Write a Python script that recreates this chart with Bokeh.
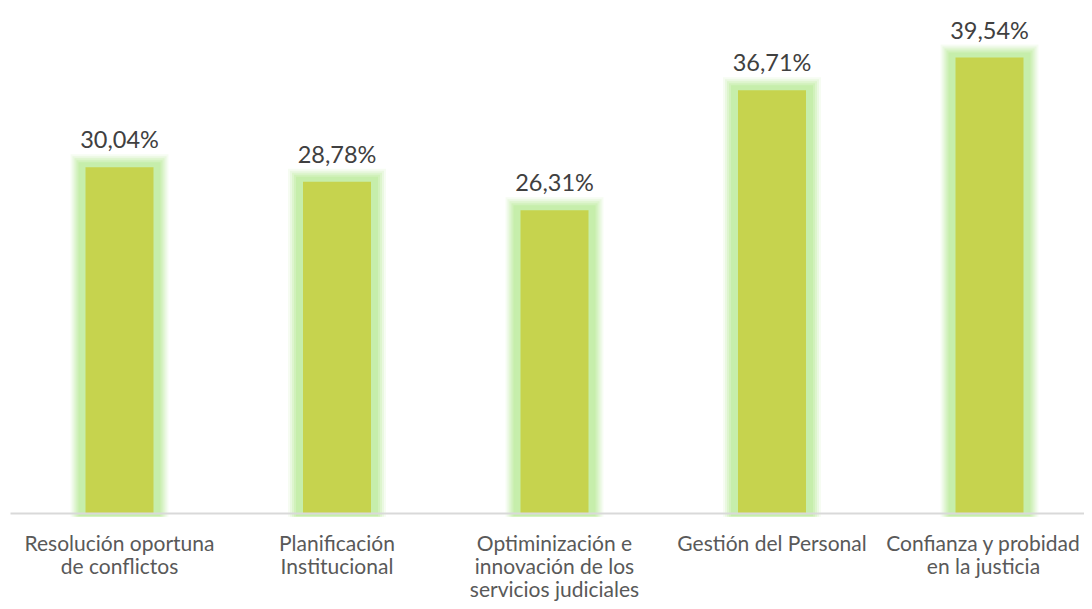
from bokeh.plotting import figure
from bokeh.models import Range1d, ColumnDataSource
from bokeh.core.properties import value
from bokeh.embed import file_html
from bokeh.resources import INLINE

categories = ["Resolución oportuna\nde conflictos", "Planificación\nInstitucional",
              "Optiminización e\ninnovación de los\nservicios judiciales",
              "Gestión del Personal", "Confianza y probidad\nen la justicia"]
values = [30.04, 28.78, 26.31, 36.71, 39.54]
value_labels = ["30,04%", "28,78%", "26,31%", "36,71%", "39,54%"]

W, H = 1084, 601
px_x = 217.5   # px per category
px_y = 11.53   # px per percent
cx0 = 119      # canvas x of first category centre
base = 513     # canvas y of baseline
x0 = (0 - cx0) / px_x
x1 = (W - cx0) / px_x
y1 = (base - 0) / px_y
y0 = (base - H) / px_y

p = figure(width=W, height=H, output_backend="svg", toolbar_location=None,
           x_range=Range1d(x0, x1), y_range=Range1d(y0, y1),
           min_border=0, min_border_left=0, min_border_right=0,
           min_border_top=0, min_border_bottom=0)
p.xaxis.visible = False
p.yaxis.visible = False
p.grid.visible = False
p.outline_line_color = None
p.background_fill_color = "white"
p.border_fill_color = "white"

xs = list(range(len(categories)))
src = ColumnDataSource(dict(x=xs, top=values, lab=value_labels, cat=categories))

bw = 68 / px_x
# soft glow layers
for extra, alpha in [(15, 0.12), (13, 0.18), (11, 0.25), (9, 0.32), (7, 0.4)]:
    p.vbar(x=xs, top=[v + (extra - 2) / px_y for v in values],
           bottom=-min(extra, 8) * 0.4 / px_y, width=bw + 2 * extra / px_x,
           fill_color="#b6ea94", fill_alpha=alpha, line_color=None)

p.vbar(x="x", top="top", bottom=0, width=bw, source=src,
       fill_color="#c6d34e", line_color=None)

p.segment(x0=[x0 + 10 / px_x], y0=[0], x1=[x1], y1=[0],
          line_color="#d9d9d9", line_width=2)

p.text(x="x", y="top", text="lab", source=src, text_align="center",
       text_baseline="alphabetic", y_offset=-28,
       text_font=value("Lato"), text_font_size="23.5px", text_color="#404040")

n = len(categories)
cat_style = dict(y=0, text_align="center", text_baseline="top", y_offset=16,
                 text_line_height=0.92, text_font=value("Lato"),
                 text_font_size="21px", text_color="#595959")
p.text(x=xs[:n - 1], text=categories[:n - 1], **cat_style)
p.text(x=xs[n - 1:], text=categories[n - 1:], x_offset=-6, **cat_style)

open("out.html", "w").write(file_html(p, INLINE))
